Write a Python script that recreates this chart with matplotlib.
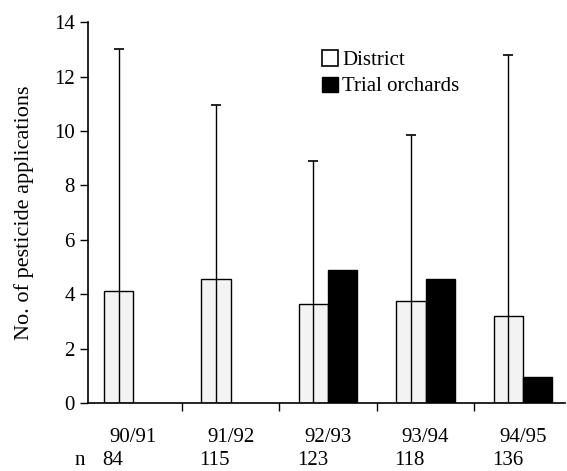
import matplotlib
matplotlib.use("Agg")
import matplotlib.pyplot as plt
from matplotlib.patches import Patch
import numpy as np

plt.rcParams["font.family"] = ["Liberation Serif", "DejaVu Serif"]

# --------------------------------------------------------------------------
# data
# --------------------------------------------------------------------------
seasons = ["90/91", "91/92", "92/93", "93/94", "94/95"]
n_orchards = [84, 115, 123, 118, 136]
district_mean = [4.12, 4.58, 3.65, 3.75, 3.22]
district_upper = [13.0, 10.95, 8.9, 9.85, 12.78]   # top of error line
trial_seasons = ["92/93", "93/94", "94/95"]
trial_mean = [4.88, 4.55, 0.98]

# --------------------------------------------------------------------------
# plot
# --------------------------------------------------------------------------
fig = plt.figure(figsize=(5.67, 4.71), dpi=100)
ax = fig.add_axes([0.155, 0.144, 0.842, 0.809])

x = np.arange(len(seasons))
w = 0.3
xd = x - 0.15
xt = np.array([seasons.index(s) for s in trial_seasons]) + 0.15

ax.bar(xd, district_mean, width=w, facecolor="#f3f3f3", edgecolor="black",
       linewidth=1.0, zorder=2)
ax.bar(xt, trial_mean, width=w, facecolor="black", edgecolor="black",
       linewidth=1.0, zorder=2)

# error lines run from the base up through the bar
ax.vlines(xd, 0, district_upper, color="black", linewidth=1.0, zorder=3)
ax.plot(xd, district_upper, linestyle="none", marker="_", markersize=7,
        markeredgewidth=1.2, color="black", zorder=3)

ax.set_xlim(-0.466, 4.435)
ax.set_ylim(0, 14)
ax.set_yticks(range(0, 15, 2))
ax.tick_params(axis="y", labelsize=15, length=6, width=1, direction="out")

ax.set_xticks(x)
ax.set_xticklabels(seasons)
ax.set_xticks(x[:-1] + 0.5, minor=True)
ax.tick_params(axis="x", which="major", length=0, labelsize=15, pad=18)
ax.tick_params(axis="x", which="minor", length=6, width=1, direction="out")

for s in ["top", "right"]:
    ax.spines[s].set_visible(False)
for s in ["left", "bottom"]:
    ax.spines[s].set_linewidth(1.2)

ax.set_ylabel("No. of pesticide applications", fontsize=16)
ax.yaxis.set_label_coords(-0.112, 0.5)

# sample sizes under the season labels
ax.text(-0.6, -0.15, "n", transform=ax.get_xaxis_transform(),
        fontsize=15, ha="left", va="center")
for i, n in enumerate(n_orchards):
    ax.text(i - 0.32, -0.15, str(n), transform=ax.get_xaxis_transform(),
            fontsize=15, ha="left", va="center")

handles = [Patch(facecolor="white", edgecolor="black", linewidth=1.2, label="District"),
           Patch(facecolor="black", edgecolor="black", label="Trial orchards")]
fig.legend(handles=handles, loc="upper left", bbox_to_anchor=(0.55, 0.915),
           frameon=False, fontsize=15, handlelength=0.75, handleheight=0.75,
           handletextpad=0.2, labelspacing=0.3, borderpad=0)

fig.savefig("out.png", dpi=100)
